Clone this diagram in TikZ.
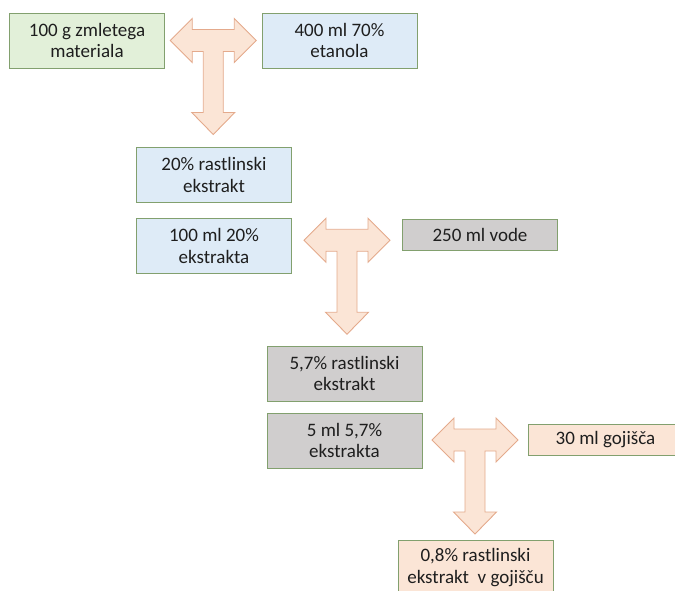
\documentclass[tikz,border=0pt]{standalone}
\usepackage{fontspec}
\setmainfont{Carlito}
\usetikzlibrary{calc}
\definecolor{box_green}{RGB}{226, 240, 217}
\definecolor{box_blue}{RGB}{222, 235, 247}
\definecolor{box_grey}{RGB}{208, 206, 206}
\definecolor{box_peach}{RGB}{251, 229, 214}
\definecolor{box_line}{RGB}{130, 160, 110}
\definecolor{arr_line}{RGB}{228, 170, 140}
\definecolor{txt}{RGB}{30, 30, 30}
\tikzstyle{bx}=[rectangle,draw=box_line,line width=1pt,text=txt,align=center,
  minimum width=155pt,minimum height=55pt,inner sep=2pt,
  font=\fontsize{19}{21.5}\selectfont]
\tikzstyle{gb}=[bx,fill=box_green]
\tikzstyle{bb}=[bx,fill=box_blue]
\tikzstyle{sb}=[bx,fill=box_grey]
\tikzstyle{pb}=[bx,fill=box_peach]
\tikzstyle{flat}=[minimum height=31pt]
\tikzstyle{tarr}=[fill=box_peach,draw=arr_line,line width=0.9pt,line join=miter]
% T-shaped block arrow centred on the junction of its bar
\newcommand{\tarrow}[1]{%
  \draw [style=tarr,shift={(#1)}] (-43,0) -- (-21,-22) -- (-21,-11) -- (21,-11)
    -- (21,-22) -- (43,0) -- (21,22) -- (21,11) -- (10,11) -- (10,72)
    -- (21.5,72) -- (0,94) -- (-21.5,72) -- (-10,72) -- (-10,11)
    -- (-21,11) -- (-21,22) -- cycle;}

\begin{document}
\begin{tikzpicture}[x=1pt, y=-1pt]
            \useasboundingbox (0, 0) rectangle (675, 590);
            \clip (0, 0) rectangle (675, 590);
            \node [style=gb] (0) at (87, 40.5) {100 g zmletega\\materiala};
            \node [style=bb] (1) at (339.5, 40.5) {400 ml 70\%\\etanola};
            \node [style=bb] (2) at (214, 175) {20\% rastlinski\\ekstrakt};
            \node [style=bb] (3) at (214, 246) {100 ml 20\%\\ekstrakta};
            \node [style=sb, style=flat] (4) at (480, 234.5) {250 ml vode};
            \node [style=sb] (5) at (344.5, 373.5) {5,7\% rastlinski\\ekstrakt};
            \node [style=sb] (6) at (344.5, 440.5) {5 ml 5,7\%\\ekstrakta};
            \node [style=pb, style=flat] (7) at (605.5, 439.5) {30 ml gojišča};
            \node [style=pb] (8) at (475.5, 567.5) {0,8\% rastlinski\\ekstrakt\ \ v gojišču};
            \coordinate (9) at ($(0.east)!0.5!(1.west)$);
            \coordinate (10) at ($(3.east)!0.5!(4.west)$);
            \coordinate (11) at ($(6.east)!0.5!(7.west)$);
            \tarrow{9}
            \tarrow{10}
            \tarrow{11}
    \end{tikzpicture}
\end{document}
